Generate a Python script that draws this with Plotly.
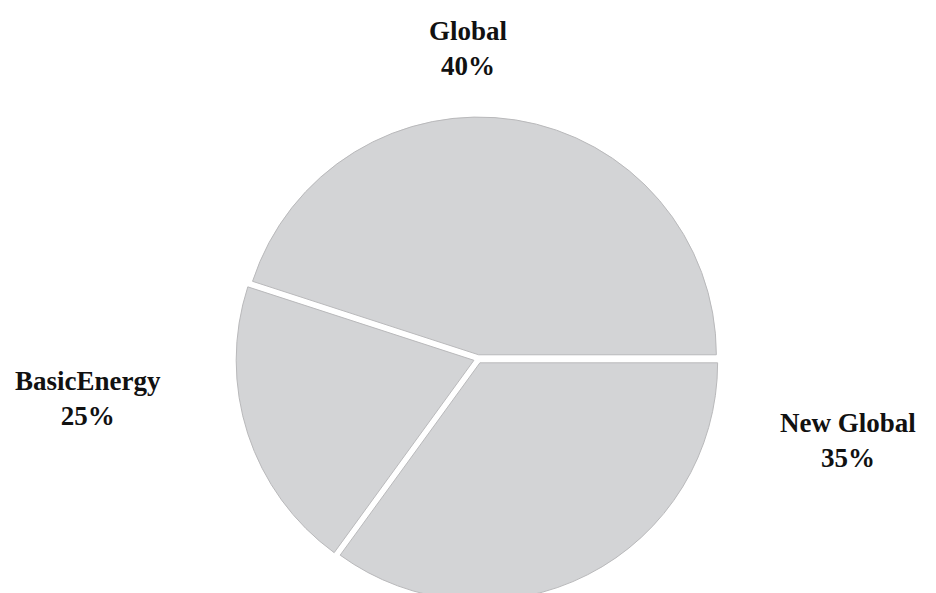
import plotly.graph_objects as go

# Data
categories = ["Global", "BasicEnergy", "New Global"]
slice_values = [45, 20, 35]             # slice sizes as drawn
display_labels = ["40%", "25%", "35%"]  # percentages printed on the chart

# label placement (paper coords) for each category
label_x = [0.4915, 0.0855, 0.8974]
label_y = [1.1415, 0.4194, 0.3326]

fig = go.Figure(
    go.Pie(
        labels=categories,
        values=slice_values,
        sort=False,
        direction="counterclockwise",
        rotation=-72,
        pull=[0.018, 0.018, 0.018],
        textinfo="none",
        hoverinfo="label+percent",
        marker=dict(colors=["#d3d4d6"] * 3, line=dict(color="#b9b9bb", width=1)),
        domain=dict(x=[0.0042, 1.0], y=[0, 1]),
        showlegend=False,
    )
)

for cat, txt, x, y in zip(categories, display_labels, label_x, label_y):
    fig.add_annotation(
        x=x, y=y, xref="paper", yref="paper",
        text=f"<b>{cat}</b><br><b>{txt}</b>",
        showarrow=False, align="center",
        xanchor="center", yanchor="middle",
        font=dict(family="Liberation Serif", size=27, color="#111111"),
    )

fig.update_layout(
    width=936, height=593,
    margin=dict(l=0, r=0, t=109, b=0),
    paper_bgcolor="white", plot_bgcolor="white",
)

fig.write_html("out.html")
